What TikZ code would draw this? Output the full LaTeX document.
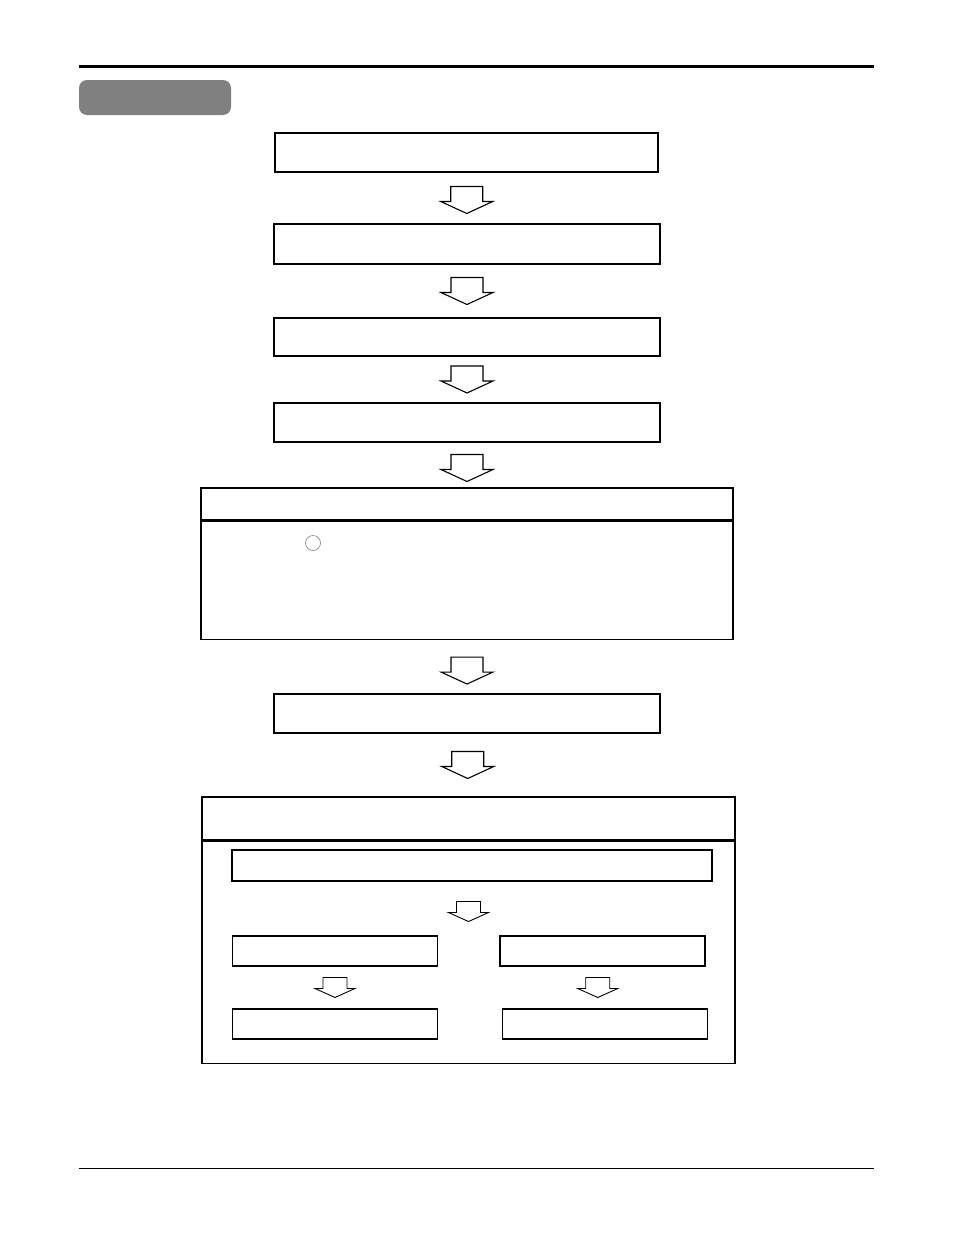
\documentclass[tikz,border=0pt]{standalone}
\usetikzlibrary{positioning,calc}

\begin{document}
\begin{tikzpicture}[x=1pt,y=-1pt,
flowbox/.style={draw,line width=1.1pt,inner sep=0pt},
arrowline/.style={draw,fill=white,line width=1.1pt,line join=miter},
pics/bigarrow/.style={code={
  \path[arrowline] (-16,-13.5) -- (16,-13.5) -- (16,1.5) -- (26,1.5) -- (0,13.5)
    -- (-26,1.5) -- (-16,1.5) -- cycle;}},
pics/smallarrow/.style={code={
  \path[arrowline,line width=0.9pt] (-12,-10) -- (12,-10) -- (12,1) -- (20,1) -- (0,10)
    -- (-20,1) -- (-12,1) -- cycle;}}]
\useasboundingbox (0,0) rectangle (954,1242);
\draw[line width=3pt] (79,66) -- (874,66);
\draw[line width=0.9pt] (79,1168) -- (874,1168);
\node[fill=black!50,rounded corners=8pt,minimum width=152pt,minimum height=35pt,inner sep=0pt] (title) at (155,97.5) {};

% main column
\node[flowbox,minimum width=383pt,minimum height=39pt] (box1) at (466.5,152.5) {};
\node[flowbox,minimum width=386pt,minimum height=40pt] (box2) at (467,244) {};
\node[flowbox,minimum width=386pt,minimum height=38pt] (box3) at (467,337) {};
\node[flowbox,minimum width=386pt,minimum height=39pt] (box4) at (467,422.5) {};
\node[flowbox,minimum width=532pt,minimum height=32pt] (head1) at (467,504) {};
\node[flowbox,minimum width=532pt,minimum height=118pt,below=0pt of head1] (body1) {};
\node[draw=gray,circle,minimum size=15pt,inner sep=0pt,line width=0.6pt] (mark) at (313,543) {};
\node[flowbox,minimum width=386pt,minimum height=39pt] (box5) at (467,713.5) {};
\node[flowbox,minimum width=533pt,minimum height=43pt] (head2) at (468.5,818.5) {};
\node[flowbox,minimum width=533pt,minimum height=222pt,below=0pt of head2] (body2) {};

% inside the last frame
\node[flowbox,minimum width=480pt,minimum height=31pt] (inner) at (472,865.5) {};
\node[flowbox,minimum width=205pt,minimum height=30pt] (midL) at (335,951) {};
\node[flowbox,minimum width=205pt,minimum height=30pt] (midR) at (602.5,951) {};
\node[flowbox,minimum width=205pt,minimum height=30pt] (botL) at (335,1024) {};
\node[flowbox,minimum width=205pt,minimum height=30pt] (botR) at (605,1024) {};

\pic[yshift=-2pt] at ($(box1.south)!.5!(box2.north)$) {bigarrow};
\pic at ($(box2.south)!.5!(box3.north)$) {bigarrow};
\pic at ($(box3.south)!.5!(box4.north)$) {bigarrow};
\pic[yshift=-3pt] at ($(box4.south)!.5!(head1.north)$) {bigarrow};
\pic[yshift=-4pt] at ($(body1.south)!.5!(box5.north)$) {bigarrow};
\pic at ($(box5.south)!.5!(head2.north)$) {bigarrow};
\coordinate (split) at ($(inner.south)!.5!(midL.north)$);
\pic[yshift=-3pt] at (body2.center |- split) {smallarrow};
\pic at ($(midL.south)!.5!(botL.north)$) {smallarrow};
\pic[xshift=-6pt] at ($(midR.south)!.5!(botR.north)$) {smallarrow};
\end{tikzpicture}
\end{document}
